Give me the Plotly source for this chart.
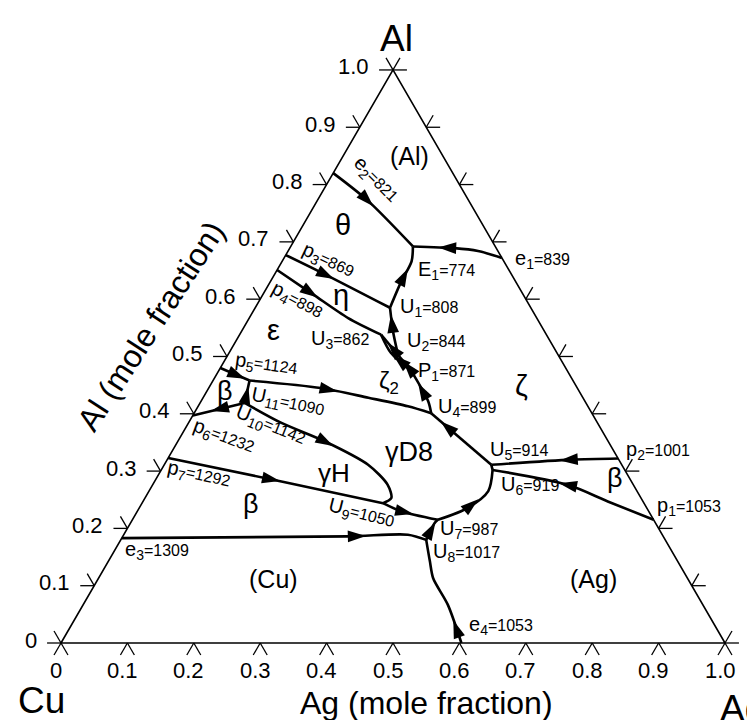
import numpy as np
import plotly.graph_objects as go

S3 = np.sqrt(3) / 2

# ---------------- data: liquidus projection curves, points are (x_Ag, x_Al) ----------------
e2_E1 = [(0.000, 0.820), (0.076, 0.772), (0.184, 0.692)]
e1_E1 = [(0.328, 0.672), (0.286, 0.684), (0.248, 0.689), (0.184, 0.692)]
U1_E1 = [(0.203, 0.585), (0.197, 0.631), (0.195, 0.666), (0.184, 0.692)]
p3_U1 = [(0.000, 0.677), (0.070, 0.646), (0.203, 0.585)]
p4_U3 = [(0.000, 0.651), (0.076, 0.608), (0.149, 0.567), (0.213, 0.538)]
U2_U1 = [(0.256, 0.503), (0.228, 0.544), (0.203, 0.585)]
U3_U2 = [(0.213, 0.538), (0.256, 0.503)]
U3_P1 = [(0.213, 0.538), (0.244, 0.506), (0.290, 0.475)]
P1_U2 = [(0.290, 0.475), (0.256, 0.503)]
P1_U4 = [(0.290, 0.475), (0.342, 0.422), (0.357, 0.401)]
p5_U11 = [(0.000, 0.480), (0.055, 0.458)]
U10_U11 = [(0.067, 0.419), (0.055, 0.458)]
p6_U10 = [(0.000, 0.397), (0.067, 0.419)]
U11_U4 = [(0.055, 0.458), (0.169, 0.445), (0.249, 0.428), (0.316, 0.413), (0.357, 0.401)]
U10_U9 = [(0.067, 0.419), (0.140, 0.384), (0.221, 0.352), (0.307, 0.311),
          (0.354, 0.276), (0.371, 0.253), (0.363, 0.244)]
p7_U9 = [(0.000, 0.323), (0.191, 0.282), (0.363, 0.244)]
U9_U7 = [(0.363, 0.244), (0.397, 0.230), (0.460, 0.215)]
e3_U8 = [(0.000, 0.183), (0.339, 0.186), (0.428, 0.189), (0.460, 0.180)]
U8_U7 = [(0.460, 0.180), (0.458, 0.209), (0.460, 0.215)]
e4_U8 = [(0.603, 0.000), (0.549, 0.067), (0.504, 0.113), (0.484, 0.143), (0.460, 0.180)]
U7_U6 = [(0.460, 0.215), (0.495, 0.236), (0.511, 0.265), (0.499, 0.302)]
U6_U5 = [(0.499, 0.302), (0.4925, 0.311)]
U5_U4 = [(0.4925, 0.311), (0.357, 0.401)]
p2_U5 = [(0.678, 0.322), (0.609, 0.320), (0.4925, 0.311)]
p1_U6 = [(0.785, 0.215), (0.700, 0.247), (0.625, 0.276), (0.499, 0.302)]

CURVES = {
    "e2_E1": e2_E1, "e1_E1": e1_E1, "U1_E1": U1_E1, "p3_U1": p3_U1, "p4_U3": p4_U3,
    "U2_U1": U2_U1, "U3_U2": U3_U2, "U3_P1": U3_P1, "P1_U2": P1_U2, "P1_U4": P1_U4,
    "p5_U11": p5_U11, "U10_U11": U10_U11, "p6_U10": p6_U10, "U11_U4": U11_U4,
    "U10_U9": U10_U9, "p7_U9": p7_U9, "U9_U7": U9_U7, "e3_U8": e3_U8, "U8_U7": U8_U7,
    "e4_U8": e4_U8, "U7_U6": U7_U6, "U6_U5": U6_U5, "U5_U4": U5_U4, "p2_U5": p2_U5,
    "p1_U6": p1_U6,
}

# arrows: (curve, fraction along curve, +1 forward / -1 backward)
ARROWS = [
    ("e2_E1", 0.48, 1), ("e1_E1", 0.72, 1), ("U1_E1", 0.65, 1), ("p3_U1", 0.46, 1),
    ("p4_U3", 0.40, 1), ("U2_U1", 0.85, 1), ("U3_U2", 0.40, -1), ("U3_P1", 0.50, -1),
    ("P1_U2", 0.60, 1), ("P1_U4", 0.30, -1), ("p5_U11", 0.85, 1), ("U10_U11", 0.75, 1),
    ("p6_U10", 0.35, -1), ("U11_U4", 0.48, 1), ("U10_U9", 0.52, 1), ("p7_U9", 0.52, 1),
    ("U9_U7", 0.56, 1), ("e3_U8", 0.80, 1), ("U8_U7", 0.85, 1), ("e4_U8", 0.22, 1),
    ("U7_U6", 0.57, 1), ("U5_U4", 0.84, 1), ("p2_U5", 0.46, 1), ("p1_U6", 0.60, 1),
]

TICK_VALUES = [0.0, 0.1, 0.2, 0.3, 0.4, 0.5, 0.6, 0.7, 0.8, 0.9, 1.0]
TICK_LABELS = ["0", "0.1", "0.2", "0.3", "0.4", "0.5", "0.6", "0.7", "0.8", "0.9", "1.0"]

# invariant point labels: (letter, subscript, temperature)
POINT_NAMES = [("e", "2", "821"), ("p", "3", "869"), ("p", "4", "898"), ("E", "1", "774"),
               ("U", "1", "808"), ("U", "2", "844"), ("U", "3", "862"), ("P", "1", "871"),
               ("U", "4", "899"), ("p", "5", "1124"), ("U", "11", "1090"), ("U", "10", "1142"),
               ("p", "6", "1232"), ("p", "7", "1292"), ("U", "9", "1050"), ("e", "3", "1309"),
               ("U", "5", "914"), ("U", "6", "919"), ("p", "2", "1001"), ("p", "1", "1053"),
               ("U", "7", "987"), ("U", "8", "1017"), ("e", "4", "1053"), ("e", "1", "839")]
REGION_NAMES = ["(Al)", "θ", "η", "ε", "ζ<sub>2</sub>", "ζ", "γD8", "γH",
                "β", "β", "β", "(Cu)", "(Ag)"]

# ---------------- layout (pixel frame of the picture) ----------------
W, H = 755, 720
PX0, PY0, SX, SY = 53.0, 635.0, 664.0, 661.7

def frame(xp, yp):
    return (xp - PX0) / SX, (PY0 - yp) / SY

POINT_POS = [(368, 171, 45), (320, 252, 25), (289, 292, 28), (438, 262, 0),
             (421, 299, 0), (428, 333, 0), (332, 331, 0), (438, 363, 0),
             (459, 399, 0), (258, 356, 8), (280, 394, 12), (263, 417, 22),
             (216, 428, 20), (191, 466, 12), (353, 505, 14), (149, 542, 0),
             (511, 442, 0), (522, 477, 0), (650, 442, 0), (681, 498, 0),
             (461, 521, 0), (458, 544, 0), (493, 617, 0), (534, 251, 0)]
REGION_POS = [(401, 148, 25), (335, 217, 29), (333, 287, 29), (265, 322, 29),
              (381, 374, 24), (513, 378, 29), (401, 444, 27), (326, 465, 26),
              (217, 383, 27), (243, 496, 27), (607, 470, 27), (265, 571, 25), (585, 571, 25)]

FONT = "Liberation Sans, Arial, sans-serif"


def to_xy(pts):
    ag = np.array([p[0] for p in pts], float)
    al = np.array([p[1] for p in pts], float)
    return ag + al / 2, al * S3


def bary(x, y):
    al = y / S3
    ag = x - al / 2
    return ag, al, 1 - ag - al


fig = go.Figure()

# triangle
tri = [(0, 0), (1, 0), (0, 1), (0, 0)]
tx, ty = to_xy(tri)
fig.add_trace(go.Scatter(x=tx, y=ty, mode="lines", line=dict(color="black", width=1.6),
                         hoverinfo="skip", showlegend=False))

# ticks: short strokes along the grid directions, outward only
L = 0.021
dirs = [(1, 0), (-1, 0), (0.5, S3), (-0.5, -S3), (0.5, -S3), (-0.5, S3)]
seen = set()
kx, ky = [], []
for t in TICK_VALUES:
    for comp in [(t, 0.0), (0.0, t), (1 - t, t)]:
        key = (round(comp[0], 4), round(comp[1], 4))
        if key in seen:
            continue
        seen.add(key)
        px_, py_ = to_xy([comp])
        px_, py_ = px_[0], py_[0]
        for dx, dy in dirs:
            ex, ey = px_ + L * dx, py_ + L * dy
            if min(bary(ex, ey)) < -1e-4:
                kx += [px_, ex, None]
                ky += [py_, ey, None]
fig.add_trace(go.Scatter(x=kx, y=ky, mode="lines", line=dict(color="black", width=1.3),
                         hoverinfo="skip", showlegend=False))

# curves
for name, pts in CURVES.items():
    cx, cy = to_xy(pts)
    fig.add_trace(go.Scatter(x=cx, y=cy, mode="lines",
                             line=dict(color="black", width=2.6,
                                       shape="spline" if len(pts) > 2 else "linear",
                                       smoothing=0.8),
                             hoverinfo="skip", showlegend=False))

# arrows
for name, f, d in ARROWS:
    cx, cy = to_xy(CURVES[name])
    seg = np.hypot(np.diff(cx), np.diff(cy))
    cum = np.concatenate([[0], np.cumsum(seg)])
    s = f * cum[-1]
    sb = np.clip(s - d * 0.012, 0, cum[-1])
    hx, hy = np.interp(s, cum, cx), np.interp(s, cum, cy)
    bx, by = np.interp(sb, cum, cx), np.interp(sb, cum, cy)
    fig.add_trace(go.Scatter(x=[bx, hx], y=[by, hy], mode="markers",
                             marker=dict(symbol="arrow", size=[1, 19], color="black",
                                         opacity=[0, 1],
                                         angleref="previous", line=dict(width=0)),
                             hoverinfo="skip", showlegend=False))

ann = []
# tick labels
for t, lab in zip(TICK_VALUES, TICK_LABELS):
    lx, ly = to_xy([(0.0, t)])
    ann.append(dict(x=lx[0], y=ly[0], text=lab, xanchor="right", yanchor="middle",
                    xshift=-22, yshift=3, showarrow=False, font=dict(size=22)))
    bx_, by_ = to_xy([(t, 0.0)])
    ann.append(dict(x=bx_[0], y=by_[0], text=lab, xanchor="center", yanchor="middle",
                    xshift=-5, yshift=-27, showarrow=False, font=dict(size=22)))

# vertex labels and axis titles
for text, xp, yp, size, anchor, ang in [("Cu", 33, 692, 37, "center", 0),
                                        ("Ag", 710, 700, 37, "left", 0),
                                        ("Al", 388, 30, 37, "center", 0),
                                        ("Ag (mole fraction)", 418, 695, 32, "center", 0),
                                        ("Al (mole fraction)", 143, 318, 32, "center", -57)]:
    x, y = frame(xp, yp)
    ann.append(dict(x=x, y=y, text=text, xanchor=anchor, yanchor="middle", textangle=ang,
                    showarrow=False, font=dict(size=size)))

# invariant point labels
for (letter, sub, temp), (xp, yp, ang) in zip(POINT_NAMES, POINT_POS):
    x, y = frame(xp, yp)
    txt = f"{letter}<sub>{sub}</sub><span style='font-size:16px'>={temp}</span>"
    ann.append(dict(x=x, y=y, text=txt, textangle=ang, xanchor="center", yanchor="middle",
                    showarrow=False, font=dict(size=20)))

# phase region labels
for txt, (xp, yp, size) in zip(REGION_NAMES, REGION_POS):
    x, y = frame(xp, yp)
    ann.append(dict(x=x, y=y, text=txt, xanchor="center", yanchor="middle",
                    showarrow=False, font=dict(size=size)))

fig.update_layout(
    width=W, height=H,
    margin=dict(l=0, r=0, t=0, b=0),
    paper_bgcolor="white", plot_bgcolor="white",
    font=dict(family=FONT, color="black"),
    xaxis=dict(range=[-PX0 / SX, (W - PX0) / SX], visible=False, fixedrange=True),
    yaxis=dict(range=[-(H - PY0) / SY, PY0 / SY], visible=False, fixedrange=True),
    annotations=ann,
    showlegend=False,
)

fig.write_html("out.html")
